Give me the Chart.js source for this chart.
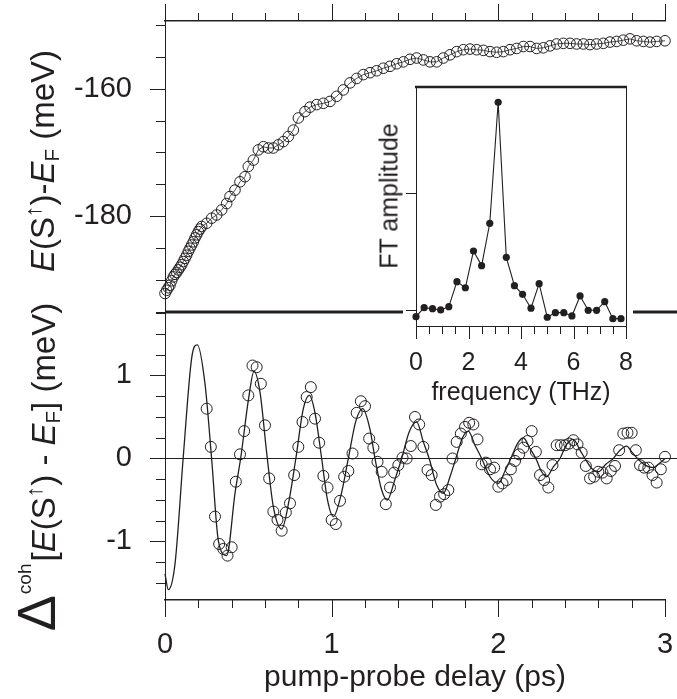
<!DOCTYPE html>
<html>
<head>
<meta charset="utf-8">
<script src="https://cdn.jsdelivr.net/npm/chart.js@4.4.1/dist/chart.umd.min.js"></script>
<style>
html,body{margin:0;padding:0;background:#fff;}
#wrap{position:relative;width:677px;height:699px;overflow:hidden;background:#fff;}
canvas{position:absolute;left:0;top:0;}
.yt{position:absolute;white-space:nowrap;line-height:1;color:#231f20;font-family:'Liberation Sans',Arial,Helvetica,sans-serif;transform:translate(-50%,-50%) rotate(-90deg);}
.yt sup,.yt sub{line-height:0;}
.ar{font-size:0.7em;vertical-align:0.55em;}
.sb{font-size:0.62em;vertical-align:-0.25em;}
.coh{font-size:19px;vertical-align:24px;margin-left:1px;margin-right:2px;}
.dl{font-size:54px;}
</style>
</head>
<body>
<div id="wrap">
<canvas id="cTop" width="677" height="699"></canvas>
<canvas id="cBot" width="677" height="699"></canvas>
<canvas id="cIns" width="677" height="699"></canvas>
<div class="yt" style="left:42px;top:161px;font-size:33px"><i>E</i>(S<sup class="ar">↑</sup>)-<i>E</i><sub class="sb">F</sub> (meV)</div>
<div class="yt" style="left:36px;top:467px;font-size:33px"><span class="dl">Δ</span><sup class="coh">coh</sup>[<i>E</i>(S<sup class="ar">↑</sup>) - <i>E</i><sub class="sb">F</sub>] (meV)</div>
<div class="yt" style="left:389px;top:196px;font-size:25px">FT amplitude</div>
</div>
<script>
// ---------- data ----------
const topDelay = [0, 0.01, 0.02, 0.03, 0.04, 0.05, 0.06, 0.07, 0.08, 0.09, 0.10, 0.11, 0.12, 0.13, 0.14, 0.15, 0.16, 0.17, 0.18, 0.19, 0.20, 0.21, 0.22, 0.25, 0.28, 0.31, 0.34, 0.37, 0.39, 0.42, 0.45, 0.48, 0.50, 0.53, 0.56, 0.59, 0.62, 0.65, 0.68, 0.71, 0.74, 0.77, 0.80, 0.84, 0.87, 0.91, 0.95, 0.99, 1.03, 1.07, 1.11, 1.15, 1.19, 1.23, 1.27, 1.31, 1.35, 1.39, 1.43, 1.47, 1.51, 1.55, 1.59, 1.63, 1.67, 1.71, 1.75, 1.79, 1.83, 1.87, 1.91, 1.95, 1.99, 2.03, 2.07, 2.11, 2.15, 2.19, 2.23, 2.27, 2.31, 2.35, 2.39, 2.43, 2.47, 2.51, 2.55, 2.59, 2.63, 2.67, 2.71, 2.75, 2.79, 2.83, 2.87, 2.91, 2.95, 3.00];
const topEnergy = [-192.1, -191.6, -191.2, -190.8, -190.1, -189.5, -189.1, -188.8, -188.4, -188.0, -187.6, -187.1, -186.6, -186.1, -185.5, -185.0, -184.5, -184.0, -183.4, -182.9, -182.4, -182.0, -181.6, -181.1, -180.3, -179.8, -179.0, -178.0, -176.9, -175.9, -174.6, -173.8, -172.2, -171.2, -169.6, -169.1, -169.3, -169.3, -168.8, -168.3, -167.5, -166.5, -164.6, -163.6, -162.9, -162.5, -162.3, -162.0, -161.2, -160.2, -159.1, -158.4, -157.8, -157.5, -157.2, -156.8, -156.5, -156.1, -155.8, -155.4, -155.2, -155.5, -155.8, -155.8, -155.2, -154.7, -154.2, -153.9, -153.8, -153.9, -154.0, -154.2, -154.3, -154.2, -153.9, -153.7, -153.4, -153.4, -153.7, -153.6, -153.3, -153.0, -152.9, -152.9, -153.0, -153.0, -153.1, -153.0, -152.9, -152.7, -152.6, -152.4, -152.2, -152.5, -152.6, -152.7, -152.6, -152.5];

const cohDelay = [0.25, 0.275, 0.3, 0.325, 0.35, 0.375, 0.4, 0.425, 0.45, 0.475,
  0.5, 0.525, 0.55, 0.575, 0.6, 0.625, 0.65, 0.675, 0.7, 0.725,
  0.75, 0.775, 0.8, 0.825, 0.85, 0.875, 0.9, 0.925, 0.95, 0.975,
  1.0, 1.025, 1.05, 1.075, 1.1, 1.125, 1.15, 1.175, 1.2, 1.225,
  1.25, 1.275, 1.3, 1.325, 1.35, 1.375, 1.4, 1.425, 1.45, 1.475,
  1.5, 1.525, 1.55, 1.575, 1.6, 1.625, 1.65, 1.675, 1.7, 1.725,
  1.75, 1.775, 1.8, 1.825, 1.85, 1.875, 1.9, 1.925, 1.95, 1.975,
  2.0, 2.025, 2.05, 2.075, 2.1, 2.125, 2.15, 2.175, 2.2, 2.225,
  2.25, 2.275, 2.3, 2.325, 2.35, 2.375, 2.4, 2.425, 2.45, 2.475,
  2.5, 2.525, 2.55, 2.575, 2.6, 2.625, 2.65, 2.675, 2.7, 2.725,
  2.75, 2.775, 2.8, 2.825, 2.85, 2.875, 2.9, 2.925, 2.95, 2.975, 3.0];
const cohValue = [0.60, 0.14, -0.70, -1.03, -1.09, -1.17, -1.07, -0.28, 0.05, 0.33,
  0.76, 1.12, 1.10, 0.90, 0.40, -0.24, -0.64, -0.74, -0.87, -0.65,
  -0.54, -0.20, 0.14, 0.44, 0.74, 0.86, 0.48, 0.19, -0.21, -0.35,
  -0.74, -0.79, -0.51, -0.22, -0.15, 0.06, 0.55, 0.69, 0.63, 0.24,
  0.13, -0.04, -0.16, -0.55, -0.35, -0.17, -0.08, 0.01, 0.00, 0.15,
  0.50, 0.41, 0.14, -0.14, -0.20, -0.56, -0.46, -0.43, -0.38, 0.00,
  0.20, 0.30, 0.38, 0.43, 0.41, 0.23, -0.07, -0.05, -0.13, -0.11,
  -0.34, -0.30, -0.26, -0.13, -0.03, 0.05, 0.13, 0.21, 0.33, 0.08,
  -0.20, -0.26, -0.35, -0.08, 0.16, 0.16, 0.16, 0.18, 0.22, 0.17,
  0.07, -0.09, -0.24, -0.22, -0.16, -0.17, -0.24, -0.15, -0.09, 0.10,
  0.30, 0.31, 0.31, 0.10, -0.08, -0.11, -0.11, -0.20, -0.29, -0.13, 0.02];

const fitDelay = [0, 0.02, 0.06, 0.11, 0.16, 0.194, 0.24, 0.28, 0.32, 0.37, 0.42, 0.456, 0.50, 0.534, 0.57, 0.61, 0.65, 0.70, 0.745, 0.785, 0.83, 0.866, 0.90, 0.94, 0.975, 1.01, 1.055, 1.10, 1.145, 1.186, 1.23, 1.26, 1.30, 1.334, 1.38, 1.42, 1.465, 1.51, 1.55, 1.585, 1.63, 1.67, 1.71, 1.745, 1.785, 1.82, 1.86, 1.90, 1.95, 2.0, 2.04, 2.075, 2.115, 2.15, 2.19, 2.225, 2.26, 2.29, 2.33, 2.37, 2.41, 2.45, 2.49, 2.52, 2.56, 2.60, 2.645, 2.69, 2.73, 2.77, 2.80, 2.835, 2.88, 2.93, 2.965, 3.0];
const fitValue = [-1.39, -1.58, -1.27, 0.03, 1.21, 1.37, 0.90, -0.01, -0.99, -1.17, -0.42, 0.03, 0.70, 1.05, 0.80, 0.07, -0.58, -0.85, -0.50, 0.0, 0.60, 0.76, 0.55, 0.0, -0.50, -0.70, -0.45, 0.0, 0.45, 0.60, 0.35, 0.0, -0.38, -0.50, -0.25, 0.0, 0.32, 0.44, 0.20, 0.0, -0.32, -0.42, -0.22, 0.0, 0.25, 0.33, 0.16, 0.0, -0.22, -0.30, -0.15, 0.0, 0.18, 0.25, 0.12, 0.0, -0.16, -0.22, -0.10, 0.0, 0.17, 0.23, 0.10, 0.0, -0.12, -0.16, -0.07, 0.0, 0.10, 0.15, 0.08, 0.0, -0.08, -0.11, -0.06, 0.0];

const ftFrequency = [0, 0.31, 0.63, 0.94, 1.25, 1.56, 1.88, 2.19, 2.5, 2.81, 3.13, 3.44, 3.75, 4.06, 4.38, 4.69, 5.0, 5.31, 5.63, 5.94, 6.25, 6.56, 6.88, 7.19, 7.5, 7.81];
const ftAmplitude = [-0.057, 0.02, 0.011, 0.0, 0.028, 0.242, 0.19, 0.504, 0.379, 0.741, 1.775, 0.45, 0.208, 0.134, 0.015, 0.225, -0.062, -0.023, -0.023, -0.051, 0.12, -0.003, -0.003, 0.071, -0.074, -0.074];

// tick values / labels
const delayMajorTicks = [0, 1, 2, 3];
const delayMinorTicks = [0.2, 0.4, 0.6, 0.8, 1.2, 1.4, 1.6, 1.8, 2.2, 2.4, 2.6, 2.8];
const energyMajorTicks = [-180, -160];
const energyMinorTicks = [-195, -190, -185, -175, -170, -165, -155, -150];
const cohMajorTicks = [-1, 0, 1];
const cohMinorTicks = [-1.5, -1.25, -0.75, -0.5, -0.25, 0.25, 0.5, 0.75, 1.25, 1.5, 1.75];
const freqMajorTicks = [0, 2, 4, 6, 8];
const freqMinorTicks = [0.5, 1, 1.5, 2.5, 3, 3.5, 4.5, 5, 5.5, 6.5, 7, 7.5];
const ampTicks = [0, 1];

// ---------- styling ----------
const INK = '#231f20';
const FONT = "'Liberation Sans', Arial, Helvetica, sans-serif";

function noPad(s) { s.paddingLeft = 0; s.paddingRight = 0; s.paddingTop = 0; s.paddingBottom = 0; }

function tickPlugin(specs, extra) {
  return {
    id: 'customTicks',
    beforeDraw(chart) { if (extra && extra.beforeDraw) extra.beforeDraw(chart); },
    beforeDatasetsDraw(chart) { if (extra && extra.beforeDatasets) extra.beforeDatasets(chart); },
    afterDraw(chart) {
      const ctx = chart.ctx, ca = chart.chartArea;
      ctx.save();
      ctx.strokeStyle = INK;
      ctx.lineCap = 'butt';
      for (const s of specs) {
        const sc = chart.scales[s.scale];
        ctx.lineWidth = s.width || 1;
        const groups = [[s.major, s.majorLen], [s.minor || [], s.minorLen]];
        for (const [vals, len] of groups) {
          for (const v of vals) {
            const p = Math.round(sc.getPixelForValue(v)) + 0.5;
            ctx.beginPath();
            if (s.side === 'left') { ctx.moveTo(ca.left, p); ctx.lineTo(ca.left - len, p); }
            else if (s.side === 'bottom') { ctx.moveTo(p, ca.bottom); ctx.lineTo(p, ca.bottom + len); }
            else if (s.side === 'top') { ctx.moveTo(p, ca.top); ctx.lineTo(p, ca.top - len); }
            ctx.stroke();
          }
        }
      }
      ctx.restore();
      if (extra && extra.afterDraw) extra.afterDraw(chart);
    }
  };
}

const baseOpts = {
  responsive: false, animation: false, events: [],
  plugins: { legend: { display: false }, tooltip: { enabled: false } }
};

// ---------- top panel ----------
new Chart(document.getElementById('cTop'), {
  type: 'scatter',
  data: { datasets: [{
    data: topDelay.map((t, i) => ({ x: t, y: topEnergy[i] })),
    showLine: true, borderColor: INK, borderWidth: 0.8, tension: 0,
    pointRadius: 5.3, pointBorderWidth: 1, pointBorderColor: INK,
    pointBackgroundColor: 'rgba(0,0,0,0)', clip: false
  }]},
  options: Object.assign({}, baseOpts, {
    layout: { padding: { left: 0, right: 12, top: 21, bottom: 387 } },
    scales: {
      x: { type: 'linear', position: 'top', min: 0, max: 3,
        grid: { display: false }, border: { display: true, color: INK, width: 1.5 },
        ticks: { display: false }, afterFit(s) { s.height = 0; noPad(s); } },
      y: { type: 'linear', position: 'left', min: -195, max: -149.4,
        grid: { display: false }, border: { display: true, color: INK, width: 1 },
        ticks: { color: INK, font: { family: FONT, size: 29 }, padding: 25, callback: v => String(v) },
        afterBuildTicks(s) { s.ticks = energyMajorTicks.map(v => ({ value: v })); },
        afterFit(s) { s.width = 165; noPad(s); } }
    }
  }),
  plugins: [tickPlugin([
    { scale: 'x', side: 'top', major: delayMajorTicks, minor: delayMinorTicks, majorLen: 17, minorLen: 8, width: 1 },
    { scale: 'y', side: 'left', major: energyMajorTicks, minor: energyMinorTicks, majorLen: 15, minorLen: 9, width: 1 }
  ], {
    afterDraw(chart) {
      const ctx = chart.ctx, ca = chart.chartArea;
      const y = chart.scales.y.getPixelForValue(-195);
      ctx.save(); ctx.strokeStyle = INK; ctx.lineWidth = 3;
      ctx.beginPath(); ctx.moveTo(ca.left, y); ctx.lineTo(chart.width, y); ctx.stroke();
      ctx.restore();
    }
  })]
});

// ---------- bottom panel ----------
new Chart(document.getElementById('cBot'), {
  type: 'scatter',
  data: { datasets: [
    { data: fitDelay.map((t, i) => ({ x: t, y: fitValue[i] })),
      showLine: true, borderColor: INK, borderWidth: 1.3, pointRadius: 0,
      cubicInterpolationMode: 'monotone', clip: false },
    { data: cohDelay.map((t, i) => ({ x: t, y: cohValue[i] })),
      showLine: false, pointRadius: 5.5, pointBorderWidth: 1, pointBorderColor: INK,
      pointBackgroundColor: 'rgba(0,0,0,0)', clip: false }
  ]},
  options: Object.assign({}, baseOpts, {
    layout: { padding: { left: 0, right: 12, top: 312, bottom: 3 } },
    scales: {
      x: { type: 'linear', position: 'bottom', min: 0, max: 3,
        grid: { display: false }, border: { display: true, color: INK, width: 1.5 },
        ticks: { color: INK, font: { family: FONT, size: 29 }, padding: 20, maxRotation: 0, callback: v => String(v) },
        afterBuildTicks(s) { s.ticks = delayMajorTicks.map(v => ({ value: v })); },
        title: { display: true, text: 'pump-probe delay (ps)', color: INK, font: { family: FONT, size: 30 }, padding: 0 },
        afterFit(s) { s.height = 96; noPad(s); } },
      y: { type: 'linear', position: 'left', min: -1.705, max: 1.765,
        grid: { display: false }, border: { display: true, color: INK, width: 1 },
        ticks: { color: INK, font: { family: FONT, size: 29 }, padding: 25, callback: v => String(v) },
        afterBuildTicks(s) { s.ticks = cohMajorTicks.map(v => ({ value: v })); },
        afterFit(s) { s.width = 165; noPad(s); } }
    }
  }),
  plugins: [tickPlugin([
    { scale: 'x', side: 'bottom', major: delayMajorTicks, minor: delayMinorTicks, majorLen: 17, minorLen: 8, width: 1 },
    { scale: 'y', side: 'left', major: cohMajorTicks, minor: cohMinorTicks, majorLen: 15, minorLen: 9, width: 1 }
  ], {
    beforeDatasets(chart) {
      const ctx = chart.ctx, ca = chart.chartArea;
      const y = Math.round(chart.scales.y.getPixelForValue(0)) + 0.5;
      ctx.save(); ctx.strokeStyle = INK; ctx.lineWidth = 1;
      ctx.beginPath(); ctx.moveTo(ca.left, y); ctx.lineTo(chart.width, y); ctx.stroke();
      ctx.restore();
    }
  })]
});

// ---------- inset ----------
new Chart(document.getElementById('cIns'), {
  type: 'scatter',
  data: { datasets: [{
    data: ftFrequency.map((f, i) => ({ x: f, y: ftAmplitude[i] })),
    showLine: true, borderColor: INK, borderWidth: 1.1, tension: 0,
    pointRadius: 3.6, pointBorderWidth: 0, pointBackgroundColor: INK, clip: false
  }]},
  options: Object.assign({}, baseOpts, {
    layout: { padding: { left: 406, right: 51, top: 87, bottom: 291 } },
    scales: {
      x: { type: 'linear', position: 'bottom', min: 0, max: 8,
        grid: { display: false }, border: { display: true, color: INK, width: 1 },
        ticks: { color: INK, font: { family: FONT, size: 25 }, padding: 14, maxRotation: 0, callback: v => String(v) },
        afterBuildTicks(s) { s.ticks = freqMajorTicks.map(v => ({ value: v })); },
        title: { display: true, text: 'frequency (THz)', color: INK, font: { family: FONT, size: 25 }, padding: 0 },
        afterFit(s) { s.height = 82; noPad(s); } },
      y: { type: 'linear', position: 'left', min: -0.137, max: 1.906,
        grid: { display: false }, border: { display: true, color: INK, width: 1 },
        ticks: { display: false },
        afterFit(s) { s.width = 10; noPad(s); } }
    }
  }),
  plugins: [tickPlugin([
    { scale: 'x', side: 'bottom', major: freqMajorTicks, minor: freqMinorTicks, majorLen: 13, minorLen: 8, width: 1 },
    { scale: 'y', side: 'left', major: ampTicks, minor: [], majorLen: 10, minorLen: 0, width: 1 }
  ], {
    beforeDraw(chart) {
      const ctx = chart.ctx, ca = chart.chartArea;
      ctx.save(); ctx.fillStyle = '#fff';
      ctx.fillRect(ca.left - 13, ca.top - 6, (ca.right - ca.left) + 20, (ca.bottom - ca.top) + 20);
      ctx.restore();
    },
    afterDraw(chart) {
      const ctx = chart.ctx, ca = chart.chartArea;
      ctx.save(); ctx.strokeStyle = INK;
      ctx.lineWidth = 2.6;
      ctx.beginPath(); ctx.moveTo(ca.left - 1, ca.top); ctx.lineTo(ca.right + 1, ca.top); ctx.stroke();
      ctx.lineWidth = 1;
      ctx.beginPath(); ctx.moveTo(Math.round(ca.right) + 0.5, ca.top); ctx.lineTo(Math.round(ca.right) + 0.5, ca.bottom); ctx.stroke();
      ctx.restore();
    }
  })]
});
</script>
</body>
</html>
